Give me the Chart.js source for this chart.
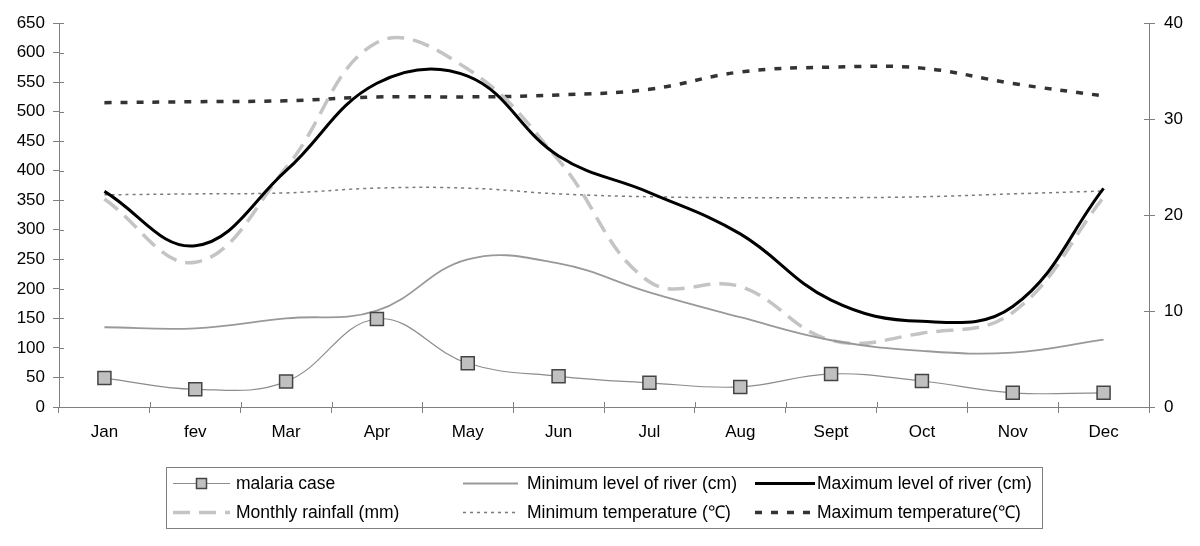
<!DOCTYPE html>
<html>
<head>
<meta charset="utf-8">
<script src="https://cdn.jsdelivr.net/npm/chart.js@4"></script>
<style>
  html, body { margin: 0; padding: 0; background: #fff; }
  #wrap { width: 1200px; height: 546px; }
</style>
</head>
<body>
<div id="wrap"><canvas id="myChart" width="1200" height="546"></canvas></div>
<script>
var months = ['Jan', 'fev', 'Mar', 'Apr', 'May', 'Jun', 'Jul', 'Aug', 'Sept', 'Oct', 'Nov', 'Dec'];

var malariaCase = [49, 30, 43, 149, 74, 52, 41, 34, 56, 44, 24, 24];
var minRiver = [135, 133, 150, 163, 250, 243, 194, 152, 113, 95, 92, 114];
var maxRiver = [365, 273, 400, 548, 560, 425, 363, 293, 181, 145, 170, 370];
var rainfall = [352, 245, 405, 617, 572, 418, 212, 204, 113, 125, 160, 355];
var minTemp = [22.1, 22.2, 22.3, 22.8, 22.8, 22.2, 21.9, 21.8, 21.8, 21.9, 22.2, 22.5];
var maxTemp = [31.7, 31.8, 31.9, 32.3, 32.3, 32.5, 33.1, 34.9, 35.4, 35.3, 33.7, 32.4];

var leftTicks = [0, 650, 50];
var rightTicks = [0, 40, 10];

var FONT = 'Liberation Sans, Arial, Helvetica, sans-serif';
var AXIS = '#808080';

// where each legend entry goes (column, row)
var legendCells = [[0, 0], [1, 0], [2, 0], [0, 1], [1, 1], [2, 1]];

// draws the little tick bits that poke into the plot, like the original
var innerTicks = {
    id: 'innerTicks',
    afterDraw: function(chart) {
        var c = chart.ctx, a = chart.chartArea;
        c.save();
        c.strokeStyle = AXIS;
        c.lineWidth = 1;
        c.beginPath();
        chart.scales.y.ticks.forEach(function(t) {
            var y = Math.round(chart.scales.y.getPixelForValue(t.value)) + 0.5;
            c.moveTo(a.left, y); c.lineTo(a.left + 5, y);
        });
        chart.scales.y1.ticks.forEach(function(t) {
            var y = Math.round(chart.scales.y1.getPixelForValue(t.value)) + 0.5;
            c.moveTo(a.right - 5, y); c.lineTo(a.right, y);
        });
        var step = (a.right - a.left) / months.length;
        for (var k = 1; k < months.length; k++) {
            var x = Math.round(a.left + k * step) + 0.5;
            c.moveTo(x, a.bottom); c.lineTo(x, a.bottom - 5);
        }
        c.stroke();
        c.restore();
    }
};

var boxLegend = {
    id: 'boxLegend',
    afterDraw: function(chart) {
        var c = chart.ctx;
        var colSample = [[173, 230], [463, 518], [755, 815]];
        var colText = [236, 527, 817];
        var rowY = [483, 512];
        c.save();
        c.strokeStyle = AXIS;
        c.lineWidth = 1;
        c.strokeRect(166.5, 467.5, 876, 61);
        c.font = '17.5px ' + FONT;
        c.fillStyle = '#000';
        c.textBaseline = 'middle';
        chart.data.datasets.forEach(function(ds, i) {
            var cell = legendCells[i];
            var s = colSample[cell[0]];
            var y = rowY[cell[1]] + 0.5;
            c.save();
            c.strokeStyle = ds.borderColor;
            c.lineWidth = ds.borderWidth;
            c.setLineDash(ds.borderDash || []);
            c.beginPath();
            c.moveTo(s[0], y); c.lineTo(s[1], y);
            c.stroke();
            if (ds.pointRadius > 0) {
                c.setLineDash([]);
                c.fillStyle = ds.pointBackgroundColor;
                c.strokeStyle = ds.pointBorderColor;
                c.lineWidth = ds.pointBorderWidth;
                var m = (s[0] + s[1]) / 2;
                c.fillRect(m - 5, y - 5, 10, 10);
                c.strokeRect(m - 5, y - 5, 10, 10);
            }
            c.restore();
            c.fillText(ds.label, colText[cell[0]], rowY[cell[1]] + 1);
        });
        c.restore();
    }
};

var ctx = document.getElementById('myChart').getContext('2d');
var myChart = new Chart(ctx, {
    type: 'line',
    data: {
        labels: months,
        datasets: [{
            label: 'malaria case',
            data: malariaCase,
            yAxisID: 'y',
            borderColor: '#8c8c8c',
            borderWidth: 1.2,
            pointStyle: 'rect',
            pointRadius: 9.2,
            pointBackgroundColor: '#c0c0c0',
            pointBorderColor: '#444',
            pointBorderWidth: 1.5
        }, {
            label: 'Minimum level of river (cm)',
            data: minRiver,
            yAxisID: 'y',
            borderColor: '#999999',
            borderWidth: 1.8,
            pointRadius: 0
        }, {
            label: 'Maximum level of river (cm)',
            data: maxRiver,
            yAxisID: 'y',
            borderColor: '#000000',
            borderWidth: 3,
            pointRadius: 0
        }, {
            label: 'Monthly rainfall (mm)',
            data: rainfall,
            yAxisID: 'y',
            borderColor: '#c4c4c4',
            borderWidth: 3.5,
            borderDash: [17, 9],
            pointRadius: 0
        }, {
            label: 'Minimum temperature (\u2103)',
            data: minTemp,
            yAxisID: 'y1',
            borderColor: '#7a7a7a',
            borderWidth: 1.5,
            borderDash: [3, 4],
            pointRadius: 0
        }, {
            label: 'Maximum temperature(\u2103)',
            data: maxTemp,
            yAxisID: 'y1',
            borderColor: '#333333',
            borderWidth: 3.5,
            borderDash: [7, 9],
            pointRadius: 0
        }]
    },
    options: {
        responsive: false,
        animation: false,
        events: [],
        layout: { padding: { top: 23, left: 0, right: 0, bottom: 0 } },
        elements: { line: { tension: 0.4, fill: false } },
        plugins: {
            legend: { display: false },
            tooltip: { enabled: false }
        },
        scales: {
            x: {
                offset: true,
                grid: { offset: true, drawOnChartArea: false, color: AXIS, tickLength: 6 },
                border: { color: AXIS },
                ticks: { color: '#000', font: { family: FONT, size: 17 }, padding: 9, maxRotation: 0 },
                afterFit: function(s) { s.height = 139; }
            },
            y: {
                position: 'left',
                min: leftTicks[0], max: leftTicks[1],
                grid: { drawOnChartArea: false, color: AXIS, tickLength: 6 },
                border: { color: AXIS },
                ticks: { stepSize: leftTicks[2], color: '#000', font: { family: FONT, size: 17 }, padding: 8 },
                afterFit: function(s) { s.width = 59; }
            },
            y1: {
                position: 'right',
                min: rightTicks[0], max: rightTicks[1],
                grid: { drawOnChartArea: false, color: AXIS, tickLength: 6 },
                border: { color: AXIS },
                ticks: { stepSize: rightTicks[2], color: '#000', font: { family: FONT, size: 17 }, padding: 9 },
                afterFit: function(s) { s.width = 51; }
            }
        }
    },
    plugins: [innerTicks, boxLegend]
});
</script>
</body>
</html>
